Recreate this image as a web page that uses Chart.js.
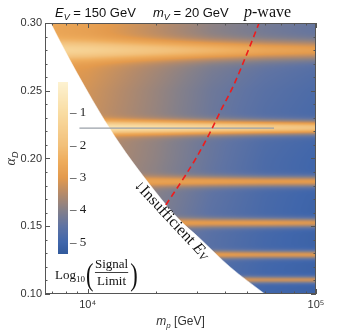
<!DOCTYPE html>
<html>
<head>
<meta charset="utf-8">
<script src="https://cdn.jsdelivr.net/npm/chart.js@4.4.1/dist/chart.umd.min.js"></script>
<style>
  html, body { margin: 0; padding: 0; background: #fff; }
</style>
</head>
<body>
<canvas id="chart" width="354" height="334"></canvas>
<script>
// axis ranges
const mpMin = 6500;
const mpMax = 100000;
const alphaMin = 0.10;
const alphaMax = 0.30;

const mpTicks = [7000, 8000, 9000, 10000, 20000, 30000, 40000, 50000, 60000, 70000, 80000, 90000, 100000];
const mpLabels = { 10000: "10\u2074", 100000: "10\u2075" };
const alphaTicks = [0.10, 0.15, 0.20, 0.25, 0.30];

// background log10(signal/limit) between the bands, rows by alpha, columns by mp
const bgMp = [6500, 10000, 20000, 35000, 60000, 100000];
const bgAlpha = [0.10, 0.15, 0.20, 0.25, 0.30];
const bgRow010 = [-3.8, -4.0, -4.3, -4.7, -5.0, -5.1];
const bgRow015 = [-3.5, -3.7, -4.1, -4.6, -4.9, -5.1];
const bgRow020 = [-3.2, -3.4, -3.9, -4.4, -4.8, -5.0];
const bgRow025 = [-3.0, -3.2, -3.8, -4.3, -4.6, -4.8];
const bgRow030 = [-2.6, -2.8, -3.4, -3.9, -4.2, -4.4];

// resonance bands: centre, width, peak value per bgMp column
const bandAlpha = [0.280, 0.2228, 0.183, 0.1525, 0.129, 0.1105];
const bandWidth = [0.007, 0.0048, 0.004, 0.0035, 0.003, 0.0026];
const band1Peak = [-1.2, -1.4, -1.9, -2.3, -2.7, -2.9];
const band2Peak = [-0.5, -0.7, -1.0, -1.3, -1.6, -1.9];
const band3Peak = [-2.6, -2.7, -2.8, -2.9, -3.0, -3.0];
const band4Peak = [-2.7, -2.8, -2.9, -3.0, -3.0, -3.1];
const band5Peak = [-2.8, -2.9, -3.0, -3.0, -3.1, -3.1];
const band6Peak = [-3.0, -3.1, -3.2, -3.2, -3.3, -3.3];

// kinematic edge (insufficient E_V below it)
const edgeMp = [6450, 6890, 8340, 11300, 13800, 17700, 24800, 31000, 42000, 59700];
const edgeAlpha = [0.31, 0.30, 0.273, 0.234, 0.211, 0.186, 0.156, 0.141, 0.12, 0.10];

// red dashed curve
const redMp = [21980, 26900, 30000, 34300, 38700, 43300, 50000, 56300];
const redAlpha = [0.1657, 0.188, 0.201, 0.219, 0.237, 0.253, 0.278, 0.30];

// thin grey line inside the bright band
const greyMp = [9200, 65500];
const greyAlpha = [0.2224, 0.2224];

// colour scale
const scaleVals = [0, -1, -2, -2.5, -3, -3.5, -4, -4.5, -5, -5.4];
const scaleCols = ["#fdf3d3", "#f9dca2", "#f2c07a", "#eeac5c", "#e39a4d", "#b48a6a", "#858089", "#5f73a3", "#4066ab", "#30589a"];
const legendTicks = [-1, -2, -3, -4, -5];

const bgRows = [bgRow010, bgRow015, bgRow020, bgRow025, bgRow030];
const bandPeaks = [band1Peak, band2Peak, band3Peak, band4Peak, band5Peak, band6Peak];
const logBgMp = bgMp.map(v => Math.log10(v));
const scaleRgb = scaleCols.map(h => [parseInt(h.slice(1, 3), 16), parseInt(h.slice(3, 5), 16), parseInt(h.slice(5, 7), 16)]);

function lerp1(xs, ys, x) {
  if (x <= xs[0]) return ys[0];
  for (let i = 1; i < xs.length; i++) {
    if (x <= xs[i]) {
      const t = (x - xs[i - 1]) / (xs[i] - xs[i - 1]);
      return ys[i - 1] + t * (ys[i] - ys[i - 1]);
    }
  }
  return ys[ys.length - 1];
}

function valueAt(mp, a) {
  const lmp = Math.log10(mp);
  const col = bgRows.map(r => lerp1(logBgMp, r, lmp));
  let v = lerp1(bgAlpha, col, a);
  for (let b = 0; b < bandAlpha.length; b++) {
    const peak = lerp1(logBgMp, bandPeaks[b], lmp);
    const d = (a - bandAlpha[b]) / bandWidth[b];
    v = v + (peak - v) * Math.exp(-d * d);
  }
  return v;
}

function colorFor(v) {
  if (v >= scaleVals[0]) return scaleRgb[0];
  for (let i = 1; i < scaleVals.length; i++) {
    if (v >= scaleVals[i]) {
      const t = (scaleVals[i - 1] - v) / (scaleVals[i - 1] - scaleVals[i]);
      const c0 = scaleRgb[i - 1], c1 = scaleRgb[i];
      return [c0[0] + t * (c1[0] - c0[0]), c0[1] + t * (c1[1] - c0[1]), c0[2] + t * (c1[2] - c0[2])];
    }
  }
  return scaleRgb[scaleRgb.length - 1];
}

function drawRich(ctx, parts, x, y, align) {
  let total = 0;
  for (const p of parts) { ctx.font = p.font; total += ctx.measureText(p.t).width + (p.gap || 0); }
  let cx = align === "center" ? x - total / 2 : x;
  ctx.textAlign = "left";
  for (const p of parts) {
    ctx.font = p.font;
    ctx.fillText(p.t, cx, y + (p.dy || 0));
    cx += ctx.measureText(p.t).width + (p.gap || 0);
  }
  return cx;
}

const SANS = "'Liberation Sans', Arial, sans-serif";
const SERIF = "'Liberation Serif', 'Times New Roman', serif";

const heatmap = {
  id: "heatmap",
  beforeDatasetsDraw(chart) {
    const { ctx, chartArea, scales } = chart;
    const x0 = Math.round(chartArea.left), y0 = Math.round(chartArea.top);
    const w = Math.round(chartArea.right) - x0, h = Math.round(chartArea.bottom) - y0;
    const img = ctx.createImageData(w, h);
    for (let j = 0; j < h; j++) {
      const a = scales.y.getValueForPixel(y0 + j + 0.5);
      for (let i = 0; i < w; i++) {
        const mp = scales.x.getValueForPixel(x0 + i + 0.5);
        const c = colorFor(valueAt(mp, a));
        const k = (j * w + i) * 4;
        img.data[k] = c[0]; img.data[k + 1] = c[1]; img.data[k + 2] = c[2]; img.data[k + 3] = 255;
      }
    }
    ctx.putImageData(img, x0, y0);
  }
};

const decorations = {
  id: "decorations",
  afterDatasetsDraw(chart) {
    const { ctx } = chart;
    // "Insufficient E_V" along the edge
    ctx.save();
    ctx.fillStyle = "#111";
    ctx.translate(144, 176);
    ctx.rotate(47 * Math.PI / 180);
    ctx.textBaseline = "top";
    drawRich(ctx, [
      { t: "\u2193Insufficient ", font: "16px " + SERIF },
      { t: "E", font: "italic 16px " + SERIF },
      { t: "V", font: "italic 11px " + SERIF, dy: 5 }
    ], 0, 2, "left");
    ctx.restore();
  },
  afterDraw(chart) {
    const { ctx, chartArea, scales } = chart;
    const L = chartArea.left, R = chartArea.right, T = chartArea.top, B = chartArea.bottom;
    ctx.save();
    // frame and inward ticks
    ctx.strokeStyle = "#555";
    ctx.lineWidth = 1;
    ctx.strokeRect(L + 0.5, T + 0.5, R - L - 1, B - T - 1);
    ctx.beginPath();
    for (const t of scales.y.ticks) {
      const py = Math.round(scales.y.getPixelForValue(t.value)) + 0.5;
      const len = t.label ? 5 : 2.5;
      ctx.moveTo(L, py); ctx.lineTo(L + len, py);
      ctx.moveTo(R, py); ctx.lineTo(R - len, py);
    }
    for (const t of scales.x.ticks) {
      const px = Math.round(scales.x.getPixelForValue(t.value)) + 0.5;
      const len = t.label ? 5 : 2.5;
      ctx.moveTo(px, B); ctx.lineTo(px, B - len);
      ctx.moveTo(px, T); ctx.lineTo(px, T + len);
    }
    ctx.stroke();

    // colour bar legend
    const barTop = 82, barBot = 254, pxPerUnit = 32.3, yAtMinus1 = 113;
    for (let py = barTop; py < barBot; py++) {
      const v = -1 - (py + 0.5 - yAtMinus1) / pxPerUnit;
      const c = colorFor(v);
      ctx.fillStyle = "rgb(" + c.map(Math.round).join(",") + ")";
      ctx.fillRect(58, py, 10, 1);
    }
    ctx.fillStyle = "#222";
    ctx.textBaseline = "middle";
    ctx.font = "13px " + SERIF;
    for (const v of legendTicks) {
      const py = yAtMinus1 + (-1 - v) * pxPerUnit;
      ctx.fillText("\u2013 " + Math.abs(v), 70, py);
    }

    // legend title  Log10( Signal / Limit )
    ctx.textBaseline = "alphabetic";
    ctx.fillStyle = "#111";
    let cx = drawRich(ctx, [
      { t: "Log", font: "13px " + SERIF },
      { t: "10", font: "9px " + SERIF, dy: 3, gap: 1 }
    ], 55, 279, "left");
    ctx.save();
    ctx.font = "32px " + SERIF;
    ctx.translate(cx, 285);
    ctx.scale(0.7, 1);
    ctx.fillText("(", 0, 0);
    ctx.restore();
    ctx.font = "13px " + SERIF;
    const fx = cx + 9;
    const sw = ctx.measureText("Signal").width;
    ctx.fillText("Signal", fx, 268);
    ctx.fillText("Limit", fx + (sw - ctx.measureText("Limit").width) / 2, 285);
    ctx.fillRect(fx, 272, sw, 0.8);
    ctx.save();
    ctx.font = "32px " + SERIF;
    ctx.translate(fx + sw + 2, 285);
    ctx.scale(0.7, 1);
    ctx.fillText(")", 0, 0);
    ctx.restore();

    // header
    ctx.fillStyle = "#111";
    drawRich(ctx, [
      { t: "E", font: "italic 13px " + SANS },
      { t: "V", font: "italic 9px " + SANS, dy: 3 },
      { t: " = 150 GeV", font: "13px " + SANS }
    ], 55, 17, "left");
    drawRich(ctx, [
      { t: "m", font: "italic 13px " + SANS },
      { t: "V", font: "italic 9px " + SANS, dy: 3 },
      { t: " = 20 GeV", font: "13px " + SANS }
    ], 153, 17, "left");
    drawRich(ctx, [
      { t: "p", font: "italic 16px " + SERIF },
      { t: "-wave", font: "16px " + SERIF }
    ], 244, 17, "left");

    // axis titles
    ctx.fillStyle = "#333";
    drawRich(ctx, [
      { t: "m", font: "italic 12px " + SANS },
      { t: "p", font: "italic 8px " + SANS, dy: 3 },
      { t: " [GeV]", font: "12px " + SANS }
    ], (L + R) / 2, 325, "center");
    ctx.save();
    ctx.translate(15, (T + B) / 2);
    ctx.rotate(-Math.PI / 2);
    drawRich(ctx, [
      { t: "\u03b1", font: "italic 14px " + SERIF },
      { t: "D", font: "italic 9px " + SANS, dy: 3 }
    ], 0, 0, "center");
    ctx.restore();
    ctx.restore();
  }
};

const edgeData = edgeMp.map((m, i) => ({ x: m, y: edgeAlpha[i] }));
const redData = redMp.map((m, i) => ({ x: m, y: redAlpha[i] }));
const greyData = greyMp.map((m, i) => ({ x: m, y: greyAlpha[i] }));

new Chart(document.getElementById("chart"), {
  type: "line",
  data: {
    datasets: [
      {
        data: redData,
        borderColor: "#ee1c1c",
        borderWidth: 1.6,
        borderDash: [6, 4],
        pointRadius: 0,
        cubicInterpolationMode: "monotone",
        fill: false,
        order: 0
      },
      {
        data: greyData,
        borderColor: "#9aa0a8",
        borderWidth: 1.4,
        pointRadius: 0,
        fill: false,
        order: 1
      },
      {
        data: edgeData,
        borderColor: "#ffffff",
        borderWidth: 0.5,
        backgroundColor: "#ffffff",
        pointRadius: 0,
        cubicInterpolationMode: "monotone",
        fill: "start",
        order: 2
      }
    ]
  },
  options: {
    responsive: false,
    animation: false,
    devicePixelRatio: 1,
    layout: { padding: { top: 23, right: 38, left: 0, bottom: 0 } },
    plugins: { legend: { display: false }, tooltip: { enabled: false } },
    scales: {
      x: {
        type: "logarithmic",
        min: mpMin,
        max: mpMax,
        grid: { display: false, drawTicks: false },
        border: { display: false },
        afterBuildTicks: s => { s.ticks = mpTicks.map(v => ({ value: v })); },
        afterFit: s => { s.height = 40; },
        ticks: {
          autoSkip: false,
          maxRotation: 0,
          padding: 4,
          color: "#333",
          font: { family: SANS, size: 11 },
          callback: v => mpLabels[v] || ""
        }
      },
      y: {
        type: "linear",
        min: alphaMin,
        max: alphaMax,
        grid: { display: false, drawTicks: false },
        border: { display: false },
        afterBuildTicks: s => {
          const t = [];
          for (let k = 10; k <= 30; k++) t.push({ value: k / 100 });
          s.ticks = t;
        },
        afterFit: s => { s.width = 45; },
        ticks: {
          autoSkip: false,
          padding: 3,
          color: "#333",
          font: { family: SANS, size: 11 },
          callback: v => {
            const hit = alphaTicks.find(a => Math.abs(a - v) < 1e-6);
            return hit !== undefined ? hit.toFixed(2) : "";
          }
        }
      }
    }
  },
  plugins: [heatmap, decorations]
});
</script>
</body>
</html>
